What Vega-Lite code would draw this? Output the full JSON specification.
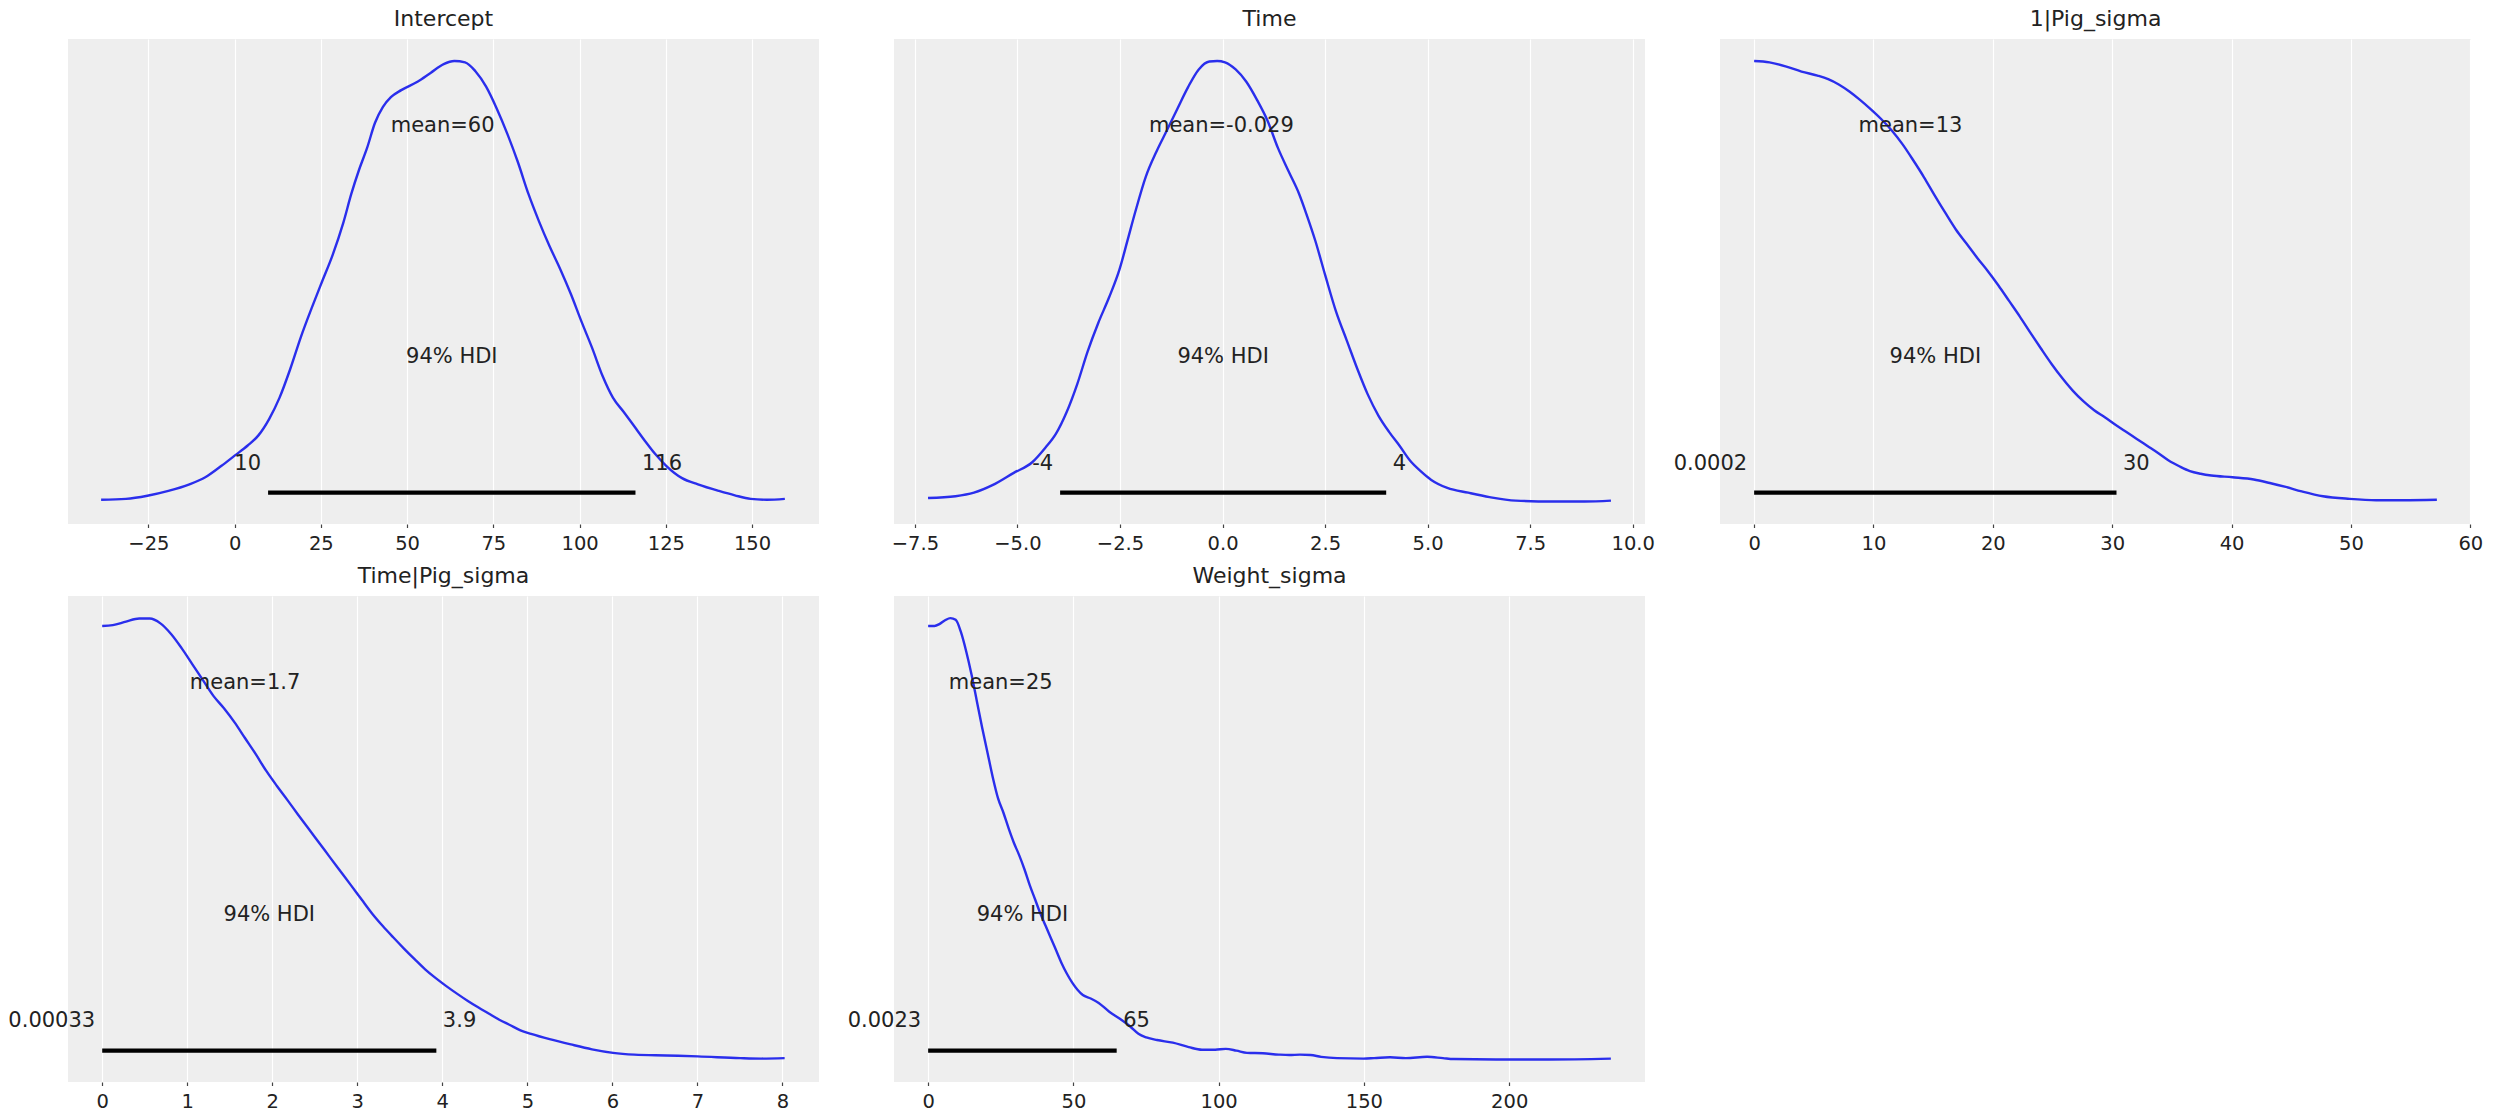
{
  "$schema": "https://vega.github.io/schema/vega-lite/v6.json",
  "background": "white",
  "padding": {"left": 8, "top": 8, "right": 5, "bottom": 2},
  "bounds": "flush",
  "columns": 3,
  "spacing": {"row": 72, "column": 75},
  "datasets": {
    "kde": [
      {"p":"Intercept","x":-38.7,"y":0.005},{"p":"Intercept","x":-31.5,"y":0.007},{"p":"Intercept","x":-25.3,"y":0.014},{"p":"Intercept","x":-19.2,"y":0.025},{"p":"Intercept","x":-13.1,"y":0.04},{"p":"Intercept","x":-8.5,"y":0.056},{"p":"Intercept","x":-3.8,"y":0.082},{"p":"Intercept","x":0,"y":0.105},{"p":"Intercept","x":3.8,"y":0.128},{"p":"Intercept","x":6.9,"y":0.151},{"p":"Intercept","x":10,"y":0.188},{"p":"Intercept","x":13,"y":0.236},{"p":"Intercept","x":16.1,"y":0.301},{"p":"Intercept","x":19.2,"y":0.374},{"p":"Intercept","x":22.3,"y":0.439},{"p":"Intercept","x":25.3,"y":0.499},{"p":"Intercept","x":28.4,"y":0.56},{"p":"Intercept","x":31.5,"y":0.633},{"p":"Intercept","x":33.8,"y":0.698},{"p":"Intercept","x":36.1,"y":0.754},{"p":"Intercept","x":38.4,"y":0.803},{"p":"Intercept","x":40.7,"y":0.86},{"p":"Intercept","x":43,"y":0.896},{"p":"Intercept","x":45.3,"y":0.918},{"p":"Intercept","x":48.3,"y":0.934},{"p":"Intercept","x":53,"y":0.953},{"p":"Intercept","x":56.8,"y":0.973},{"p":"Intercept","x":60.6,"y":0.993},{"p":"Intercept","x":63.7,"y":1.0},{"p":"Intercept","x":66.8,"y":0.997},{"p":"Intercept","x":69.8,"y":0.977},{"p":"Intercept","x":72.9,"y":0.942},{"p":"Intercept","x":76,"y":0.892},{"p":"Intercept","x":79,"y":0.836},{"p":"Intercept","x":82.1,"y":0.771},{"p":"Intercept","x":85.2,"y":0.698},{"p":"Intercept","x":88.2,"y":0.637},{"p":"Intercept","x":91.3,"y":0.58},{"p":"Intercept","x":94.4,"y":0.528},{"p":"Intercept","x":97.5,"y":0.471},{"p":"Intercept","x":100.5,"y":0.41},{"p":"Intercept","x":103.6,"y":0.35},{"p":"Intercept","x":106.7,"y":0.285},{"p":"Intercept","x":109.7,"y":0.236},{"p":"Intercept","x":112.8,"y":0.204},{"p":"Intercept","x":115.9,"y":0.171},{"p":"Intercept","x":118.9,"y":0.139},{"p":"Intercept","x":122,"y":0.108},{"p":"Intercept","x":125.1,"y":0.082},{"p":"Intercept","x":129.7,"y":0.054},{"p":"Intercept","x":134.3,"y":0.04},{"p":"Intercept","x":140.4,"y":0.025},{"p":"Intercept","x":145,"y":0.015},{"p":"Intercept","x":149.6,"y":0.007},{"p":"Intercept","x":154.3,"y":0.005},{"p":"Intercept","x":159.5,"y":0.007},
      {"p":"Time","x":-7.18,"y":0.009},{"p":"Time","x":-6.51,"y":0.013},{"p":"Time","x":-6.06,"y":0.021},{"p":"Time","x":-5.61,"y":0.038},{"p":"Time","x":-5.09,"y":0.066},{"p":"Time","x":-4.64,"y":0.09},{"p":"Time","x":-4.32,"y":0.123},{"p":"Time","x":-4.06,"y":0.155},{"p":"Time","x":-3.8,"y":0.204},{"p":"Time","x":-3.54,"y":0.268},{"p":"Time","x":-3.29,"y":0.341},{"p":"Time","x":-3.03,"y":0.406},{"p":"Time","x":-2.77,"y":0.463},{"p":"Time","x":-2.51,"y":0.528},{"p":"Time","x":-2.32,"y":0.592},{"p":"Time","x":-2.13,"y":0.657},{"p":"Time","x":-1.87,"y":0.738},{"p":"Time","x":-1.61,"y":0.795},{"p":"Time","x":-1.35,"y":0.844},{"p":"Time","x":-1.1,"y":0.892},{"p":"Time","x":-0.84,"y":0.941},{"p":"Time","x":-0.58,"y":0.981},{"p":"Time","x":-0.32,"y":0.999},{"p":"Time","x":-0.13,"y":1.0},{"p":"Time","x":0.06,"y":0.997},{"p":"Time","x":0.32,"y":0.981},{"p":"Time","x":0.58,"y":0.953},{"p":"Time","x":0.84,"y":0.912},{"p":"Time","x":1.1,"y":0.864},{"p":"Time","x":1.35,"y":0.803},{"p":"Time","x":1.61,"y":0.75},{"p":"Time","x":1.87,"y":0.698},{"p":"Time","x":2.06,"y":0.649},{"p":"Time","x":2.26,"y":0.593},{"p":"Time","x":2.51,"y":0.512},{"p":"Time","x":2.77,"y":0.431},{"p":"Time","x":3.03,"y":0.366},{"p":"Time","x":3.29,"y":0.301},{"p":"Time","x":3.54,"y":0.244},{"p":"Time","x":3.8,"y":0.196},{"p":"Time","x":4.06,"y":0.159},{"p":"Time","x":4.32,"y":0.127},{"p":"Time","x":4.57,"y":0.094},{"p":"Time","x":4.83,"y":0.07},{"p":"Time","x":5.09,"y":0.05},{"p":"Time","x":5.48,"y":0.032},{"p":"Time","x":5.99,"y":0.021},{"p":"Time","x":6.51,"y":0.011},{"p":"Time","x":7.15,"y":0.003},{"p":"Time","x":8.05,"y":0.001},{"p":"Time","x":8.83,"y":0.001},{"p":"Time","x":9.47,"y":0.003},
      {"p":"1|Pig_sigma","x":0,"y":1.0},{"p":"1|Pig_sigma","x":1.29,"y":0.997},{"p":"1|Pig_sigma","x":2.63,"y":0.988},{"p":"1|Pig_sigma","x":3.97,"y":0.976},{"p":"1|Pig_sigma","x":5.31,"y":0.967},{"p":"1|Pig_sigma","x":6.2,"y":0.959},{"p":"1|Pig_sigma","x":7.09,"y":0.947},{"p":"1|Pig_sigma","x":7.98,"y":0.931},{"p":"1|Pig_sigma","x":8.87,"y":0.912},{"p":"1|Pig_sigma","x":9.76,"y":0.891},{"p":"1|Pig_sigma","x":10.66,"y":0.868},{"p":"1|Pig_sigma","x":11.55,"y":0.842},{"p":"1|Pig_sigma","x":12.44,"y":0.811},{"p":"1|Pig_sigma","x":13.33,"y":0.775},{"p":"1|Pig_sigma","x":14.22,"y":0.737},{"p":"1|Pig_sigma","x":15.11,"y":0.696},{"p":"1|Pig_sigma","x":16.01,"y":0.656},{"p":"1|Pig_sigma","x":16.9,"y":0.618},{"p":"1|Pig_sigma","x":17.79,"y":0.586},{"p":"1|Pig_sigma","x":18.68,"y":0.554},{"p":"1|Pig_sigma","x":19.57,"y":0.524},{"p":"1|Pig_sigma","x":20.47,"y":0.491},{"p":"1|Pig_sigma","x":21.36,"y":0.456},{"p":"1|Pig_sigma","x":22.25,"y":0.421},{"p":"1|Pig_sigma","x":23.14,"y":0.384},{"p":"1|Pig_sigma","x":24.03,"y":0.348},{"p":"1|Pig_sigma","x":24.92,"y":0.313},{"p":"1|Pig_sigma","x":25.81,"y":0.281},{"p":"1|Pig_sigma","x":26.71,"y":0.252},{"p":"1|Pig_sigma","x":27.6,"y":0.228},{"p":"1|Pig_sigma","x":28.49,"y":0.208},{"p":"1|Pig_sigma","x":29.38,"y":0.192},{"p":"1|Pig_sigma","x":30.27,"y":0.175},{"p":"1|Pig_sigma","x":31.16,"y":0.159},{"p":"1|Pig_sigma","x":32.06,"y":0.143},{"p":"1|Pig_sigma","x":32.95,"y":0.127},{"p":"1|Pig_sigma","x":33.84,"y":0.111},{"p":"1|Pig_sigma","x":34.73,"y":0.094},{"p":"1|Pig_sigma","x":35.62,"y":0.081},{"p":"1|Pig_sigma","x":36.51,"y":0.07},{"p":"1|Pig_sigma","x":37.41,"y":0.064},{"p":"1|Pig_sigma","x":38.3,"y":0.06},{"p":"1|Pig_sigma","x":40.08,"y":0.056},{"p":"1|Pig_sigma","x":41.86,"y":0.051},{"p":"1|Pig_sigma","x":43.2,"y":0.043},{"p":"1|Pig_sigma","x":44.54,"y":0.034},{"p":"1|Pig_sigma","x":45.88,"y":0.024},{"p":"1|Pig_sigma","x":47.66,"y":0.013},{"p":"1|Pig_sigma","x":49.89,"y":0.007},{"p":"1|Pig_sigma","x":52.12,"y":0.004},{"p":"1|Pig_sigma","x":54.35,"y":0.004},{"p":"1|Pig_sigma","x":57.2,"y":0.005},
      {"p":"Time|Pig_sigma","x":0,"y":0.982},{"p":"Time|Pig_sigma","x":0.125,"y":0.984},{"p":"Time|Pig_sigma","x":0.28,"y":0.992},{"p":"Time|Pig_sigma","x":0.436,"y":0.999},{"p":"Time|Pig_sigma","x":0.56,"y":0.999},{"p":"Time|Pig_sigma","x":0.685,"y":0.988},{"p":"Time|Pig_sigma","x":0.81,"y":0.964},{"p":"Time|Pig_sigma","x":0.934,"y":0.932},{"p":"Time|Pig_sigma","x":1.059,"y":0.896},{"p":"Time|Pig_sigma","x":1.183,"y":0.86},{"p":"Time|Pig_sigma","x":1.308,"y":0.824},{"p":"Time|Pig_sigma","x":1.432,"y":0.796},{"p":"Time|Pig_sigma","x":1.557,"y":0.764},{"p":"Time|Pig_sigma","x":1.681,"y":0.728},{"p":"Time|Pig_sigma","x":1.806,"y":0.692},{"p":"Time|Pig_sigma","x":1.93,"y":0.654},{"p":"Time|Pig_sigma","x":2.055,"y":0.62},{"p":"Time|Pig_sigma","x":2.179,"y":0.588},{"p":"Time|Pig_sigma","x":2.304,"y":0.555},{"p":"Time|Pig_sigma","x":2.428,"y":0.523},{"p":"Time|Pig_sigma","x":2.553,"y":0.491},{"p":"Time|Pig_sigma","x":2.677,"y":0.459},{"p":"Time|Pig_sigma","x":2.802,"y":0.427},{"p":"Time|Pig_sigma","x":2.927,"y":0.395},{"p":"Time|Pig_sigma","x":3.051,"y":0.363},{"p":"Time|Pig_sigma","x":3.176,"y":0.331},{"p":"Time|Pig_sigma","x":3.3,"y":0.303},{"p":"Time|Pig_sigma","x":3.425,"y":0.277},{"p":"Time|Pig_sigma","x":3.549,"y":0.252},{"p":"Time|Pig_sigma","x":3.674,"y":0.228},{"p":"Time|Pig_sigma","x":3.798,"y":0.205},{"p":"Time|Pig_sigma","x":3.923,"y":0.185},{"p":"Time|Pig_sigma","x":4.047,"y":0.167},{"p":"Time|Pig_sigma","x":4.172,"y":0.15},{"p":"Time|Pig_sigma","x":4.296,"y":0.134},{"p":"Time|Pig_sigma","x":4.421,"y":0.119},{"p":"Time|Pig_sigma","x":4.545,"y":0.105},{"p":"Time|Pig_sigma","x":4.67,"y":0.091},{"p":"Time|Pig_sigma","x":4.795,"y":0.079},{"p":"Time|Pig_sigma","x":4.919,"y":0.067},{"p":"Time|Pig_sigma","x":5.044,"y":0.059},{"p":"Time|Pig_sigma","x":5.262,"y":0.047},{"p":"Time|Pig_sigma","x":5.511,"y":0.035},{"p":"Time|Pig_sigma","x":5.76,"y":0.024},{"p":"Time|Pig_sigma","x":6.009,"y":0.016},{"p":"Time|Pig_sigma","x":6.258,"y":0.012},{"p":"Time|Pig_sigma","x":6.631,"y":0.01},{"p":"Time|Pig_sigma","x":7.005,"y":0.008},{"p":"Time|Pig_sigma","x":7.503,"y":0.004},{"p":"Time|Pig_sigma","x":7.752,"y":0.003},{"p":"Time|Pig_sigma","x":8.026,"y":0.004},
      {"p":"Weight_sigma","x":0,"y":0.982},{"p":"Weight_sigma","x":2.19,"y":0.982},{"p":"Weight_sigma","x":4.01,"y":0.987},{"p":"Weight_sigma","x":5.83,"y":0.995},{"p":"Weight_sigma","x":7.66,"y":1.0},{"p":"Weight_sigma","x":9.48,"y":0.996},{"p":"Weight_sigma","x":11.3,"y":0.968},{"p":"Weight_sigma","x":13.13,"y":0.924},{"p":"Weight_sigma","x":14.95,"y":0.872},{"p":"Weight_sigma","x":16.77,"y":0.812},{"p":"Weight_sigma","x":18.6,"y":0.752},{"p":"Weight_sigma","x":20.42,"y":0.696},{"p":"Weight_sigma","x":22.24,"y":0.64},{"p":"Weight_sigma","x":24.07,"y":0.592},{"p":"Weight_sigma","x":25.89,"y":0.56},{"p":"Weight_sigma","x":27.71,"y":0.524},{"p":"Weight_sigma","x":29.54,"y":0.491},{"p":"Weight_sigma","x":31.36,"y":0.463},{"p":"Weight_sigma","x":33.18,"y":0.431},{"p":"Weight_sigma","x":35,"y":0.395},{"p":"Weight_sigma","x":36.83,"y":0.363},{"p":"Weight_sigma","x":38.65,"y":0.331},{"p":"Weight_sigma","x":40.47,"y":0.303},{"p":"Weight_sigma","x":42.3,"y":0.275},{"p":"Weight_sigma","x":44.12,"y":0.247},{"p":"Weight_sigma","x":45.94,"y":0.219},{"p":"Weight_sigma","x":47.77,"y":0.195},{"p":"Weight_sigma","x":49.59,"y":0.175},{"p":"Weight_sigma","x":51.41,"y":0.159},{"p":"Weight_sigma","x":53.24,"y":0.147},{"p":"Weight_sigma","x":55.97,"y":0.139},{"p":"Weight_sigma","x":58.71,"y":0.129},{"p":"Weight_sigma","x":62.35,"y":0.109},{"p":"Weight_sigma","x":66,"y":0.093},{"p":"Weight_sigma","x":69.64,"y":0.075},{"p":"Weight_sigma","x":72.38,"y":0.059},{"p":"Weight_sigma","x":75.11,"y":0.051},{"p":"Weight_sigma","x":78.76,"y":0.045},{"p":"Weight_sigma","x":84.23,"y":0.039},{"p":"Weight_sigma","x":89.7,"y":0.029},{"p":"Weight_sigma","x":94.26,"y":0.023},{"p":"Weight_sigma","x":98.81,"y":0.023},{"p":"Weight_sigma","x":102.46,"y":0.025},{"p":"Weight_sigma","x":106.11,"y":0.021},{"p":"Weight_sigma","x":109.75,"y":0.016},{"p":"Weight_sigma","x":115.22,"y":0.015},{"p":"Weight_sigma","x":120.69,"y":0.012},{"p":"Weight_sigma","x":124.34,"y":0.011},{"p":"Weight_sigma","x":127.99,"y":0.012},{"p":"Weight_sigma","x":131.63,"y":0.011},{"p":"Weight_sigma","x":135.28,"y":0.007},{"p":"Weight_sigma","x":140.75,"y":0.004},{"p":"Weight_sigma","x":149.86,"y":0.003},{"p":"Weight_sigma","x":153.51,"y":0.004},{"p":"Weight_sigma","x":158.98,"y":0.006},{"p":"Weight_sigma","x":164.45,"y":0.004},{"p":"Weight_sigma","x":171.74,"y":0.007},{"p":"Weight_sigma","x":177.21,"y":0.004},{"p":"Weight_sigma","x":180.86,"y":0.002},{"p":"Weight_sigma","x":195.44,"y":0.001},{"p":"Weight_sigma","x":213.67,"y":0.001},{"p":"Weight_sigma","x":235,"y":0.003}
    ],
    "hdi": [
      {"p":"Intercept","lo":9.7,"hi":116.2,"mid":62.95,"mean":60.3,"lo_label":"10","hi_label":"116","mean_label":"mean=60","hdi_label":"94% HDI"},
      {"p":"Time","lo":-3.96,"hi":3.99,"mid":0.015,"mean":-0.029,"lo_label":"-4","hi_label":"4","mean_label":"mean=-0.029","hdi_label":"94% HDI"},
      {"p":"1|Pig_sigma","lo":0.0002,"hi":30.36,"mid":15.18,"mean":13.1,"lo_label":"0.0002","hi_label":"30","mean_label":"mean=13","hdi_label":"94% HDI"},
      {"p":"Time|Pig_sigma","lo":0.00033,"hi":3.93,"mid":1.965,"mean":1.68,"lo_label":"0.00033","hi_label":"3.9","mean_label":"mean=1.7","hdi_label":"94% HDI"},
      {"p":"Weight_sigma","lo":0.0023,"hi":64.9,"mid":32.45,"mean":24.98,"lo_label":"0.0023","hi_label":"65","mean_label":"mean=25","hdi_label":"94% HDI"}
    ]
  },
  "concat": [
    {
      "title": {"text": "Intercept"},
      "width": 751, "height": 485,
      "layer": [
        {"data": {"name": "kde"}, "transform": [{"filter": "datum.p === 'Intercept'"}],
         "mark": {"type": "line", "color": "#2a2eec", "strokeWidth": 2.4, "interpolate": "monotone"},
         "encoding": {
           "x": {"field": "x", "type": "quantitative", "title": null, "scale": {"domain": [-48.3, 169.4], "nice": false, "zero": false}, "axis": {"values": [-25, 0, 25, 50, 75, 100, 125, 150], "format": "d", "title": null}},
           "y": {"field": "y", "type": "quantitative", "scale": {"domain": [-0.05, 1.05], "nice": false, "zero": false}, "axis": null}}},
        {"data": {"name": "hdi"}, "transform": [{"filter": "datum.p === 'Intercept'"}],
         "layer": [
           {"mark": {"type": "rule", "color": "black", "strokeWidth": 4.3, "strokeCap": "butt"},
            "encoding": {"x": {"field": "lo", "type": "quantitative", "title": null, "scale": {"domain": [-48.3, 169.4], "nice": false, "zero": false}}, "x2": {"field": "hi"}, "y": {"datum": 0.021, "type": "quantitative", "scale": {"domain": [-0.05, 1.05], "nice": false, "zero": false}, "axis": null}}},
           {"mark": {"type": "text", "align": "right", "dx": -7},
            "encoding": {"x": {"field": "lo", "type": "quantitative", "title": null, "scale": {"domain": [-48.3, 169.4], "nice": false, "zero": false}}, "y": {"datum": 0.0735, "type": "quantitative", "scale": {"domain": [-0.05, 1.05], "nice": false, "zero": false}, "axis": null}, "text": {"field": "lo_label"}}},
           {"mark": {"type": "text", "align": "left", "dx": 6.5},
            "encoding": {"x": {"field": "hi", "type": "quantitative", "title": null, "scale": {"domain": [-48.3, 169.4], "nice": false, "zero": false}}, "y": {"datum": 0.0735, "type": "quantitative", "scale": {"domain": [-0.05, 1.05], "nice": false, "zero": false}, "axis": null}, "text": {"field": "hi_label"}}},
           {"mark": {"type": "text", "align": "center"},
            "encoding": {"x": {"field": "mid", "type": "quantitative", "title": null, "scale": {"domain": [-48.3, 169.4], "nice": false, "zero": false}}, "y": {"datum": 0.315, "type": "quantitative", "scale": {"domain": [-0.05, 1.05], "nice": false, "zero": false}, "axis": null}, "text": {"field": "hdi_label"}}},
           {"mark": {"type": "text", "align": "center"},
            "encoding": {"x": {"field": "mean", "type": "quantitative", "title": null, "scale": {"domain": [-48.3, 169.4], "nice": false, "zero": false}}, "y": {"datum": 0.84, "type": "quantitative", "scale": {"domain": [-0.05, 1.05], "nice": false, "zero": false}, "axis": null}, "text": {"field": "mean_label"}}}
         ]}
      ]
    },
    {
      "title": {"text": "Time"},
      "width": 751, "height": 485,
      "layer": [
        {"data": {"name": "kde"}, "transform": [{"filter": "datum.p === 'Time'"}],
         "mark": {"type": "line", "color": "#2a2eec", "strokeWidth": 2.4, "interpolate": "monotone"},
         "encoding": {
           "x": {"field": "x", "type": "quantitative", "title": null, "scale": {"domain": [-8.01, 10.3], "nice": false, "zero": false}, "axis": {"values": [-7.5, -5, -2.5, 0, 2.5, 5, 7.5, 10], "format": ".1f", "title": null}},
           "y": {"field": "y", "type": "quantitative", "scale": {"domain": [-0.05, 1.05], "nice": false, "zero": false}, "axis": null}}},
        {"data": {"name": "hdi"}, "transform": [{"filter": "datum.p === 'Time'"}],
         "layer": [
           {"mark": {"type": "rule", "color": "black", "strokeWidth": 4.3, "strokeCap": "butt"},
            "encoding": {"x": {"field": "lo", "type": "quantitative", "title": null, "scale": {"domain": [-8.01, 10.3], "nice": false, "zero": false}}, "x2": {"field": "hi"}, "y": {"datum": 0.021, "type": "quantitative", "scale": {"domain": [-0.05, 1.05], "nice": false, "zero": false}, "axis": null}}},
           {"mark": {"type": "text", "align": "right", "dx": -7},
            "encoding": {"x": {"field": "lo", "type": "quantitative", "title": null, "scale": {"domain": [-8.01, 10.3], "nice": false, "zero": false}}, "y": {"datum": 0.0735, "type": "quantitative", "scale": {"domain": [-0.05, 1.05], "nice": false, "zero": false}, "axis": null}, "text": {"field": "lo_label"}}},
           {"mark": {"type": "text", "align": "left", "dx": 6.5},
            "encoding": {"x": {"field": "hi", "type": "quantitative", "title": null, "scale": {"domain": [-8.01, 10.3], "nice": false, "zero": false}}, "y": {"datum": 0.0735, "type": "quantitative", "scale": {"domain": [-0.05, 1.05], "nice": false, "zero": false}, "axis": null}, "text": {"field": "hi_label"}}},
           {"mark": {"type": "text", "align": "center"},
            "encoding": {"x": {"field": "mid", "type": "quantitative", "title": null, "scale": {"domain": [-8.01, 10.3], "nice": false, "zero": false}}, "y": {"datum": 0.315, "type": "quantitative", "scale": {"domain": [-0.05, 1.05], "nice": false, "zero": false}, "axis": null}, "text": {"field": "hdi_label"}}},
           {"mark": {"type": "text", "align": "center"},
            "encoding": {"x": {"field": "mean", "type": "quantitative", "title": null, "scale": {"domain": [-8.01, 10.3], "nice": false, "zero": false}}, "y": {"datum": 0.84, "type": "quantitative", "scale": {"domain": [-0.05, 1.05], "nice": false, "zero": false}, "axis": null}, "text": {"field": "mean_label"}}}
         ]}
      ]
    },
    {
      "title": {"text": "1|Pig_sigma"},
      "width": 751, "height": 485,
      "layer": [
        {"data": {"name": "kde"}, "transform": [{"filter": "datum.p === '1|Pig_sigma'"}],
         "mark": {"type": "line", "color": "#2a2eec", "strokeWidth": 2.4, "interpolate": "monotone"},
         "encoding": {
           "x": {"field": "x", "type": "quantitative", "title": null, "scale": {"domain": [-2.86, 60.06], "nice": false, "zero": false}, "axis": {"values": [0, 10, 20, 30, 40, 50, 60], "format": "d", "title": null}},
           "y": {"field": "y", "type": "quantitative", "scale": {"domain": [-0.05, 1.05], "nice": false, "zero": false}, "axis": null}}},
        {"data": {"name": "hdi"}, "transform": [{"filter": "datum.p === '1|Pig_sigma'"}],
         "layer": [
           {"mark": {"type": "rule", "color": "black", "strokeWidth": 4.3, "strokeCap": "butt"},
            "encoding": {"x": {"field": "lo", "type": "quantitative", "title": null, "scale": {"domain": [-2.86, 60.06], "nice": false, "zero": false}}, "x2": {"field": "hi"}, "y": {"datum": 0.021, "type": "quantitative", "scale": {"domain": [-0.05, 1.05], "nice": false, "zero": false}, "axis": null}}},
           {"mark": {"type": "text", "align": "right", "dx": -7},
            "encoding": {"x": {"field": "lo", "type": "quantitative", "title": null, "scale": {"domain": [-2.86, 60.06], "nice": false, "zero": false}}, "y": {"datum": 0.0735, "type": "quantitative", "scale": {"domain": [-0.05, 1.05], "nice": false, "zero": false}, "axis": null}, "text": {"field": "lo_label"}}},
           {"mark": {"type": "text", "align": "left", "dx": 6.5},
            "encoding": {"x": {"field": "hi", "type": "quantitative", "title": null, "scale": {"domain": [-2.86, 60.06], "nice": false, "zero": false}}, "y": {"datum": 0.0735, "type": "quantitative", "scale": {"domain": [-0.05, 1.05], "nice": false, "zero": false}, "axis": null}, "text": {"field": "hi_label"}}},
           {"mark": {"type": "text", "align": "center"},
            "encoding": {"x": {"field": "mid", "type": "quantitative", "title": null, "scale": {"domain": [-2.86, 60.06], "nice": false, "zero": false}}, "y": {"datum": 0.315, "type": "quantitative", "scale": {"domain": [-0.05, 1.05], "nice": false, "zero": false}, "axis": null}, "text": {"field": "hdi_label"}}},
           {"mark": {"type": "text", "align": "center"},
            "encoding": {"x": {"field": "mean", "type": "quantitative", "title": null, "scale": {"domain": [-2.86, 60.06], "nice": false, "zero": false}}, "y": {"datum": 0.84, "type": "quantitative", "scale": {"domain": [-0.05, 1.05], "nice": false, "zero": false}, "axis": null}, "text": {"field": "mean_label"}}}
         ]}
      ]
    },
    {
      "title": {"text": "Time|Pig_sigma"},
      "width": 751, "height": 486,
      "layer": [
        {"data": {"name": "kde"}, "transform": [{"filter": "datum.p === 'Time|Pig_sigma'"}],
         "mark": {"type": "line", "color": "#2a2eec", "strokeWidth": 2.4, "interpolate": "monotone"},
         "encoding": {
           "x": {"field": "x", "type": "quantitative", "title": null, "scale": {"domain": [-0.402, 8.43], "nice": false, "zero": false}, "axis": {"values": [0, 1, 2, 3, 4, 5, 6, 7, 8], "format": "d", "title": null}},
           "y": {"field": "y", "type": "quantitative", "scale": {"domain": [-0.05, 1.05], "nice": false, "zero": false}, "axis": null}}},
        {"data": {"name": "hdi"}, "transform": [{"filter": "datum.p === 'Time|Pig_sigma'"}],
         "layer": [
           {"mark": {"type": "rule", "color": "black", "strokeWidth": 4.3, "strokeCap": "butt"},
            "encoding": {"x": {"field": "lo", "type": "quantitative", "title": null, "scale": {"domain": [-0.402, 8.43], "nice": false, "zero": false}}, "x2": {"field": "hi"}, "y": {"datum": 0.021, "type": "quantitative", "scale": {"domain": [-0.05, 1.05], "nice": false, "zero": false}, "axis": null}}},
           {"mark": {"type": "text", "align": "right", "dx": -7},
            "encoding": {"x": {"field": "lo", "type": "quantitative", "title": null, "scale": {"domain": [-0.402, 8.43], "nice": false, "zero": false}}, "y": {"datum": 0.0735, "type": "quantitative", "scale": {"domain": [-0.05, 1.05], "nice": false, "zero": false}, "axis": null}, "text": {"field": "lo_label"}}},
           {"mark": {"type": "text", "align": "left", "dx": 6.5},
            "encoding": {"x": {"field": "hi", "type": "quantitative", "title": null, "scale": {"domain": [-0.402, 8.43], "nice": false, "zero": false}}, "y": {"datum": 0.0735, "type": "quantitative", "scale": {"domain": [-0.05, 1.05], "nice": false, "zero": false}, "axis": null}, "text": {"field": "hi_label"}}},
           {"mark": {"type": "text", "align": "center"},
            "encoding": {"x": {"field": "mid", "type": "quantitative", "title": null, "scale": {"domain": [-0.402, 8.43], "nice": false, "zero": false}}, "y": {"datum": 0.315, "type": "quantitative", "scale": {"domain": [-0.05, 1.05], "nice": false, "zero": false}, "axis": null}, "text": {"field": "hdi_label"}}},
           {"mark": {"type": "text", "align": "center"},
            "encoding": {"x": {"field": "mean", "type": "quantitative", "title": null, "scale": {"domain": [-0.402, 8.43], "nice": false, "zero": false}}, "y": {"datum": 0.84, "type": "quantitative", "scale": {"domain": [-0.05, 1.05], "nice": false, "zero": false}, "axis": null}, "text": {"field": "mean_label"}}}
         ]}
      ]
    },
    {
      "title": {"text": "Weight_sigma"},
      "width": 751, "height": 486,
      "layer": [
        {"data": {"name": "kde"}, "transform": [{"filter": "datum.p === 'Weight_sigma'"}],
         "mark": {"type": "line", "color": "#2a2eec", "strokeWidth": 2.4, "interpolate": "monotone"},
         "encoding": {
           "x": {"field": "x", "type": "quantitative", "title": null, "scale": {"domain": [-11.75, 246.75], "nice": false, "zero": false}, "axis": {"values": [0, 50, 100, 150, 200], "format": "d", "title": null}},
           "y": {"field": "y", "type": "quantitative", "scale": {"domain": [-0.05, 1.05], "nice": false, "zero": false}, "axis": null}}},
        {"data": {"name": "hdi"}, "transform": [{"filter": "datum.p === 'Weight_sigma'"}],
         "layer": [
           {"mark": {"type": "rule", "color": "black", "strokeWidth": 4.3, "strokeCap": "butt"},
            "encoding": {"x": {"field": "lo", "type": "quantitative", "title": null, "scale": {"domain": [-11.75, 246.75], "nice": false, "zero": false}}, "x2": {"field": "hi"}, "y": {"datum": 0.021, "type": "quantitative", "scale": {"domain": [-0.05, 1.05], "nice": false, "zero": false}, "axis": null}}},
           {"mark": {"type": "text", "align": "right", "dx": -7},
            "encoding": {"x": {"field": "lo", "type": "quantitative", "title": null, "scale": {"domain": [-11.75, 246.75], "nice": false, "zero": false}}, "y": {"datum": 0.0735, "type": "quantitative", "scale": {"domain": [-0.05, 1.05], "nice": false, "zero": false}, "axis": null}, "text": {"field": "lo_label"}}},
           {"mark": {"type": "text", "align": "left", "dx": 6.5},
            "encoding": {"x": {"field": "hi", "type": "quantitative", "title": null, "scale": {"domain": [-11.75, 246.75], "nice": false, "zero": false}}, "y": {"datum": 0.0735, "type": "quantitative", "scale": {"domain": [-0.05, 1.05], "nice": false, "zero": false}, "axis": null}, "text": {"field": "hi_label"}}},
           {"mark": {"type": "text", "align": "center"},
            "encoding": {"x": {"field": "mid", "type": "quantitative", "title": null, "scale": {"domain": [-11.75, 246.75], "nice": false, "zero": false}}, "y": {"datum": 0.315, "type": "quantitative", "scale": {"domain": [-0.05, 1.05], "nice": false, "zero": false}, "axis": null}, "text": {"field": "hdi_label"}}},
           {"mark": {"type": "text", "align": "center"},
            "encoding": {"x": {"field": "mean", "type": "quantitative", "title": null, "scale": {"domain": [-11.75, 246.75], "nice": false, "zero": false}}, "y": {"datum": 0.84, "type": "quantitative", "scale": {"domain": [-0.05, 1.05], "nice": false, "zero": false}, "axis": null}, "text": {"field": "mean_label"}}}
         ]}
      ]
    }
  ],
  "config": {
    "font": "DejaVu Sans",
    "view": {"fill": "#eeeeee", "stroke": null},
    "axis": {"domain": false, "grid": true, "gridColor": "#ffffff", "gridWidth": 1.2, "gridOpacity": 1, "tickColor": "#444444", "tickSize": 3.5, "tickWidth": 1.2, "labelFont": "DejaVu Sans", "labelFontSize": 19.5, "labelColor": "#222222", "labelPadding": 7, "labelFlush": false, "labelOverlap": false},
    "axisY": {"grid": false},
    "title": {"font": "DejaVu Sans", "fontSize": 22, "fontWeight": "normal", "color": "#222222", "offset": 8, "baseline": "alphabetic", "frame": "group", "anchor": "middle"},
    "text": {"font": "DejaVu Sans", "fontSize": 21, "color": "#222222", "baseline": "alphabetic"}
  }
}
